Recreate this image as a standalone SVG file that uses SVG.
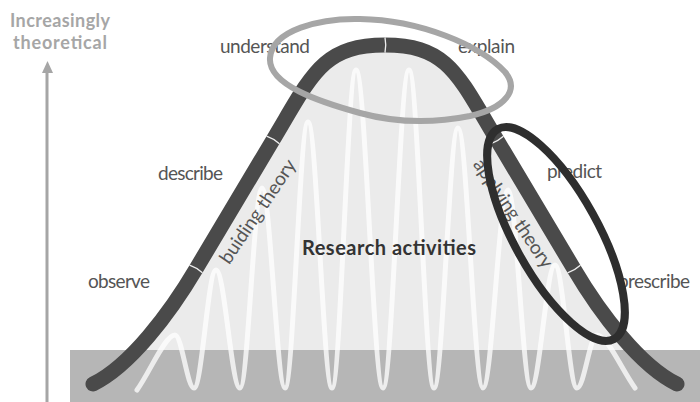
<svg xmlns="http://www.w3.org/2000/svg" width="700" height="402" viewBox="0 0 700 402">
  <style>
    .lbl { font-family: Lato, "Open Sans", "Liberation Sans", sans-serif; font-size: 19px; fill: #555555; }
    .axis { font-family: Lato, "Open Sans", "Liberation Sans", sans-serif; font-size: 18px; font-weight: bold; fill: #a6a6a6; }
    .title { font-family: Lato, "Open Sans", "Liberation Sans", sans-serif; font-size: 20px; font-weight: bold; fill: #333333; }
    .notch { fill: none; stroke: #ffffff; stroke-width: 1.3; stroke-opacity: 0.9; }
  </style>
  <rect x="0" y="0" width="700" height="402" fill="#ffffff"/>

  <g id="bell-fill">
    <path d="M93,384 C130,366 170,313 196,269 L273,140 C312,75 322,45 385,45 C448,45 458,75 497,140 L574,269 C600,313 640,366 677,384 L677,402 L93,402 Z" fill="#ebebeb"/>
  </g>

  <g id="ground">
    <rect x="70" y="350" width="630" height="52" fill="#b6b6b6"/>
  </g>

  <g id="wave">
    <path d="M137,390 C150,372 165,335 175,335 C181.8,335 187.2,388 194,388 C201.9,388 208.1,270 216,270 C224.6,270 231.4,388 240,388 C247.9,388 254.1,188 262,188 C270.3,188 276.7,388 285,388 C293.3,388 299.7,122 308,122 C316.6,122 323.4,388 332,388 C340.6,388 347.4,70 356,70 C365.7,70 373.3,388 383,388 C392.4,388 399.6,70 409,70 C418,70 425,388 434,388 C442.6,388 449.4,128 458,128 C467,128 474,388 483,388 C492,388 499,190 508,190 C516.3,190 522.7,388 531,388 C539.6,388 546.4,265 555,265 C562.9,265 569.1,388 577,388 C584.2,388 589.8,335 597,335 C607,335 622,370 635,388" fill="none" stroke="#ffffff" stroke-opacity="0.75" stroke-width="5" stroke-linecap="round" stroke-linejoin="round"/>
  </g>

  <g id="axis">
    <line x1="47" y1="402" x2="47" y2="71" stroke="#a6a6a6" stroke-width="3"/>
    <polygon points="47.5,61 53,73 42,73" fill="#a6a6a6"/>
    <text class="axis" x="60" y="27" text-anchor="middle" textLength="100">Increasingly</text>
    <text class="axis" x="60" y="49" text-anchor="middle" textLength="94">theoretical</text>
  </g>

  <g id="labels">
    <text class="lbl" x="220" y="53" textLength="90">understand</text>
    <text class="lbl" x="458" y="53" textLength="57">explain</text>
    <text class="lbl" x="158" y="180" textLength="65">describe</text>
    <text class="lbl" x="88" y="288" textLength="62">observe</text>
    <text class="lbl" x="547" y="178" textLength="55">predict</text>
    <text class="lbl" x="618" y="288" textLength="72">prescribe</text>
    <text class="title" x="302" y="255" textLength="174">Research activities</text>
    <text class="lbl" transform="translate(263,215) rotate(-56)" x="0" y="0" text-anchor="middle" textLength="121">buiding theory</text>
    <text class="lbl" transform="translate(508,217) rotate(56)" x="0" y="0" text-anchor="middle" textLength="127">applying theory</text>
  </g>

  <g id="curve">
    <path d="M93,384 C130,366 170,313 196,269 L273,140 C312,75 322,45 385,45 C448,45 458,75 497,140 L574,269 C600,313 640,366 677,384" fill="none" stroke="#4a4a4a" stroke-width="15" stroke-linecap="round" stroke-linejoin="round"/>
    <path class="notch" d="M189.6,265.2 Q196.8,267.7 202.4,272.8"/>
    <path class="notch" d="M266.6,136.2 Q273.8,138.7 279.4,143.8"/>
    <path class="notch" d="M385,37.5 Q386.5,45 385,52.5"/>
    <path class="notch" d="M490.6,143.8 Q497.8,141.3 503.4,136.2"/>
    <path class="notch" d="M567.6,272.8 Q574.8,270.3 580.4,265.2"/>
  </g>

  <g id="ring-understand-explain">
    <path d="M270,58 C272,30 320,18 360,19 C420,20 480,45 505,72 C520,90 505,108 470,116 C440,122 400,124 360,113 C320,102 268,85 270,58 Z" fill="none" stroke="#a6a6a6" stroke-width="6"/>
  </g>

  <g id="ring-predict-prescribe">
    <ellipse cx="556" cy="234" rx="120" ry="42" transform="rotate(61 556 234)" fill="none" stroke="#2e2e2e" stroke-width="8"/>
  </g>
</svg>
